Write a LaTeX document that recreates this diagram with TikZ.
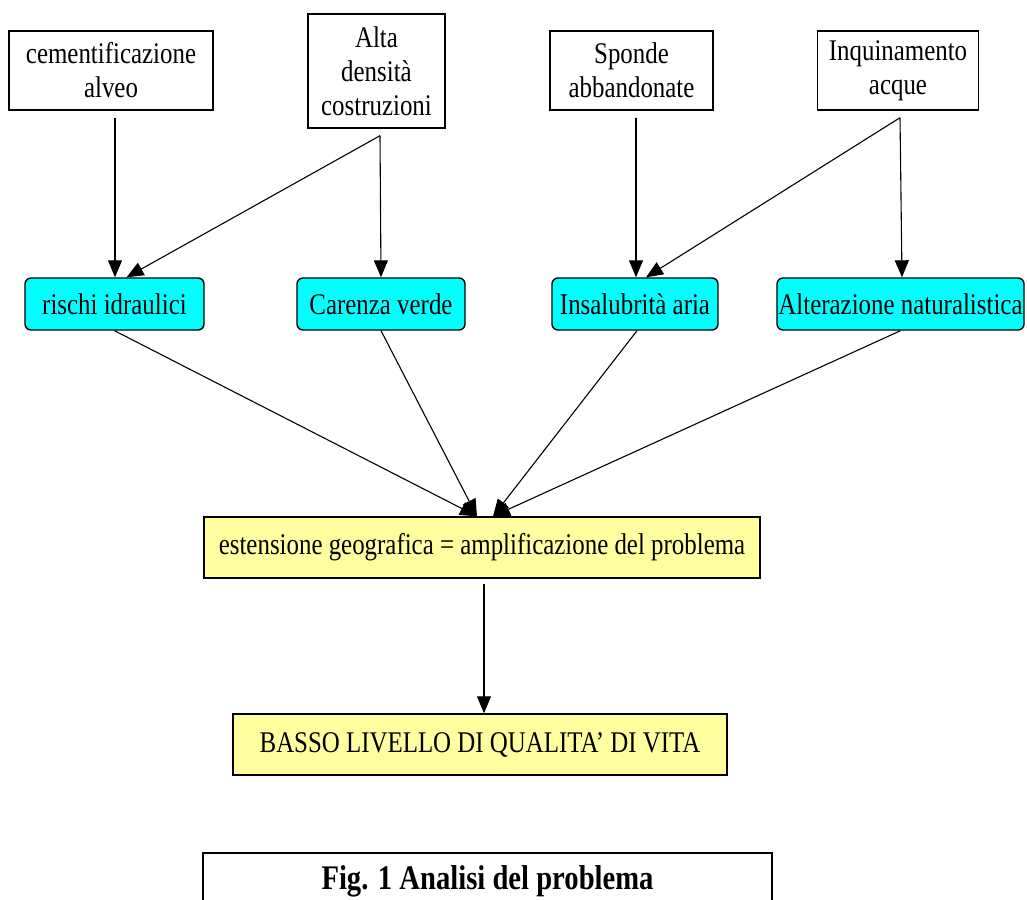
\documentclass[tikz,border=0pt]{standalone}
\usepackage{fontspec}
\setmainfont{Liberation Serif}[FakeStretch=0.83]
\usetikzlibrary{arrows.meta,calc}
\definecolor{boxcyan}{RGB}{0,255,255}
\definecolor{boxyellow}{RGB}{255,255,160}
\begin{document}
\begin{tikzpicture}[x=1pt,y=-1pt,
  every node/.style={font=\fontsize{30}{34}\selectfont, inner sep=0pt, align=center},
  causebox/.style={draw, line width=1.4pt, fill=white},
  effectbox/.style={draw, line width=1.4pt, fill=boxcyan, rounded corners=6pt, minimum height=52pt},
  resultbox/.style={draw, line width=1.4pt, fill=boxyellow, minimum height=61pt},
  arr/.style={line width=1.1pt, -{Triangle[width=14pt,length=17pt]}}]
\useasboundingbox (0,0) rectangle (1027,899);
% top causes
\node[causebox, minimum width=204pt, minimum height=79pt] (c1) at (111,70.5) {cementificazione\\alveo};
\node[causebox, minimum width=137pt, minimum height=114pt] (a) at (376.5,71) {Alta\\densità\\costruzioni};
\node[causebox, minimum width=163pt, minimum height=79pt] (s) at (631.5,70.5) {Sponde\\abbandonate};
\node[causebox, minimum width=161pt, minimum height=79pt] (q) at (898,70.5) {Inquinamento\\acque};
% effects
\node[effectbox, minimum width=179pt] (r) at (114.5,304) {rischi idraulici};
\node[effectbox, minimum width=168pt] (cv) at (381,304) {Carenza verde};
\node[effectbox, minimum width=166pt] (ia) at (635,304) {Insalubrità aria};
\node[effectbox, minimum width=247pt] (al) at (900.5,304) {Alterazione naturalistica};
% results
\node[resultbox, minimum width=556pt] (y1) at (482,547.5) {estensione geografica = amplificazione del problema};
\node[resultbox, minimum width=494pt] (y2) at (480,744.5) {BASSO LIVELLO DI QUALITA’ DI VITA};
% caption
\node[draw, line width=1.4pt, minimum width=569pt, minimum height=56pt,
      font=\fontsize{34.5}{40}\selectfont\bfseries] (cap) at (487.5,881) {Fig. 1 Analisi del problema};
% connectors
\draw[arr] ($(c1.south)+(4,7)$) -- ($(r.north)+(0.5,0)$);
\draw[arr] ($(a.south)+(3.5,7)$) -- ($(r.north)+(12,0)$);
\draw[arr] ($(a.south)+(3.5,7)$) -- (cv.north);
\draw[arr] ($(s.south)+(4.5,7)$) -- ($(ia.north)+(1,0)$);
\draw[arr] ($(q.south)+(2,7)$) -- ($(ia.north)+(11,0)$);
\draw[arr] ($(q.south)+(2,7)$) -- ($(al.north)+(1.5,0)$);
\draw[arr] (r.south) -- ($(y1.north)+(-5,0)$);
\draw[arr] (cv.south) -- ($(y1.north)+(-5,0)$);
\draw[arr] ($(ia.south)+(2,0)$) -- ($(y1.north)+(11,0)$);
\draw[arr] (al.south) -- ($(y1.north)+(11,0)$);
\draw[arr] ($(y1.south)+(2,5)$) -- ($(y2.north)+(4,0)$);
\end{tikzpicture}
\end{document}
